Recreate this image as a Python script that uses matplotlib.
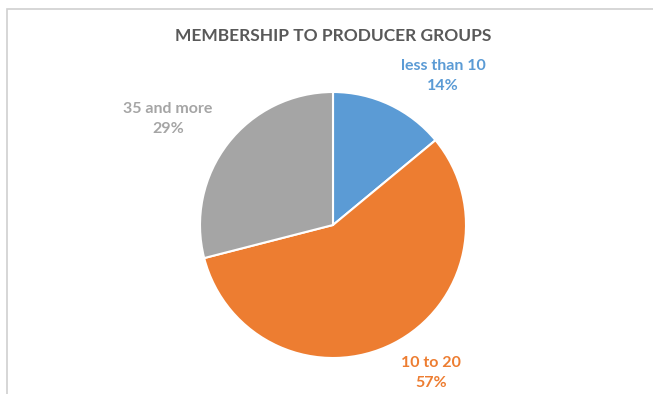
import matplotlib.pyplot as plt
from matplotlib.patches import Rectangle

# data
labels = ['less than 10', '10 to 20', '35 and more']
shares = [14, 57, 29]
colors = ['#5B9BD5', '#ED7D31', '#A5A5A5']
title = 'MEMBERSHIP TO PRODUCER GROUPS'

W, H = 653, 394
fig = plt.figure(figsize=(W / 100, H / 100), dpi=100)
ax = fig.add_axes([0, 0, 1, 1])
ax.set_xlim(0, W)
ax.set_ylim(0, H)
ax.set_aspect('equal')
ax.axis('off')

# chart frame (runs off the right and bottom edges)
ax.add_patch(Rectangle((7, -20), 700, H - 9 + 20, fill=False, edgecolor='#d0d0d0', lw=1.2))

ax.pie(shares, colors=colors, startangle=90, counterclock=False,
       center=(333, H - 225), radius=133,
       wedgeprops=dict(edgecolor='white', linewidth=1.5))
ax.set_xlim(0, W)
ax.set_ylim(0, H)

font = ['Lato', 'DejaVu Sans']
ax.text(333, H - 36, title, ha='center', va='center', fontsize=12.5,
        fontweight='bold', color='#595959', family=font)

label_pos = [(443, H - 76), (431, H - 373), (168, H - 119)]
for lab, s, c, (x, y) in zip(labels, shares, colors, label_pos):
    ax.text(x, y, f'{lab}\n{s}%', ha='center', va='center', fontsize=11.5,
            fontweight='bold', color=c, family=font, linespacing=1.55)

fig.savefig('out.png', dpi=100)
